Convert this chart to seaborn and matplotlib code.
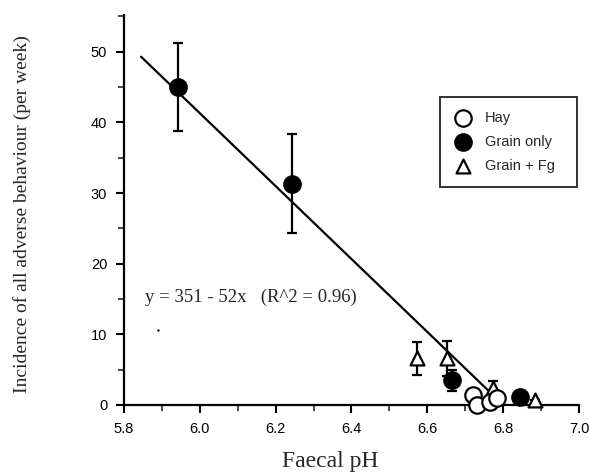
import numpy as np
import pandas as pd
import matplotlib
matplotlib.use("Agg")
import matplotlib.pyplot as plt
from matplotlib.ticker import MultipleLocator
import seaborn as sns

# ---- data ----
hay_x = [6.720, 6.731, 6.765, 6.784]
hay_y = [1.4, 0.0, 0.4, 1.0]

grain_x = [5.942, 6.243, 6.665, 6.844]
grain_y = [45.0, 31.3, 3.5, 1.1]
grain_err = [6.2, 7.0, 1.5, 0.0]

fg_x = [6.573, 6.652, 6.773, 6.884]
fg_y = [6.6, 6.6, 2.4, 0.7]
fg_err = [2.3, 2.5, 1.0, 0.0]

fit_intercept = 350.9
fit_slope = -51.6
fit_x_range = [5.845, 6.786]

stray_x = [5.890]
stray_y = [10.6]

x_ticks = [5.8, 6.0, 6.2, 6.4, 6.6, 6.8, 7.0]
y_ticks = [0, 10, 20, 30, 40, 50]

equation_text = "y = 351 - 52x   (R^2 = 0.96)"
group_labels = ["Hay", "Grain only", "Grain + Fg"]

sns.set_theme(style="ticks")
plt.rcParams["font.family"] = ["Liberation Sans", "DejaVu Sans"]
serif = ["Liberation Serif", "DejaVu Serif"]

fig = plt.figure(figsize=(5.89, 4.73), dpi=100)
ax = fig.add_axes([0.2105, 0.1438, 0.7725, 0.8245])

# regression line
fit_df = pd.DataFrame({"x": fit_x_range,
                       "y": [fit_intercept + fit_slope * v for v in fit_x_range]})
sns.lineplot(data=fit_df, x="x", y="y", color="black", linewidth=1.6, ax=ax,
             zorder=2, legend=False)

# error bars
ax.errorbar(grain_x, grain_y, yerr=grain_err, fmt="none", ecolor="black",
            elinewidth=1.6, capsize=3.5, capthick=1.6, zorder=3)
ax.errorbar(fg_x, fg_y, yerr=fg_err, fmt="none", ecolor="black",
            elinewidth=1.6, capsize=3.5, capthick=1.6, zorder=3)

# points
hay_df = pd.DataFrame({"x": hay_x, "y": hay_y})
grain_df = pd.DataFrame({"x": grain_x, "y": grain_y})
fg_df = pd.DataFrame({"x": fg_x, "y": fg_y})

sns.scatterplot(data=grain_df, x="x", y="y", marker="o", s=150, color="black",
                edgecolor="black", linewidth=1.2, ax=ax, zorder=4,
                label=group_labels[1], clip_on=False)
sns.scatterplot(data=fg_df, x="x", y="y", marker="^", s=100, color="white",
                edgecolor="black", linewidth=1.6, ax=ax, zorder=5,
                label=group_labels[2], clip_on=False)
sns.scatterplot(data=hay_df, x="x", y="y", marker="o", s=140, color="white",
                edgecolor="black", linewidth=1.6, ax=ax, zorder=6,
                label=group_labels[0], clip_on=False)
sns.scatterplot(x=stray_x, y=stray_y, marker="o", s=3, color="black",
                edgecolor="black", linewidth=0, ax=ax, zorder=4)

# equation
ax.text(5.855, 15.2, equation_text, fontsize=13.5, family=serif,
        va="center", ha="left")

# axes styling
ax.set_xlim(5.8, 7.0)
ax.set_ylim(0, 55.2)
ax.set_xticks(x_ticks)
ax.set_xticklabels([f"{v:.1f}" for v in x_ticks])
ax.set_yticks(y_ticks)
ax.set_yticklabels([str(v) for v in y_ticks])
ax.xaxis.set_minor_locator(MultipleLocator(0.1))
ax.yaxis.set_minor_locator(MultipleLocator(5))
ax.tick_params(axis="both", which="major", direction="out", length=6, width=1.5,
               labelsize=10.5, colors="black", pad=6)
ax.tick_params(axis="both", which="minor", direction="out", length=4, width=1.2)
sns.despine(ax=ax)
for side in ["left", "bottom"]:
    ax.spines[side].set_linewidth(1.6)
    ax.spines[side].set_color("black")
ax.set_facecolor("white")
fig.patch.set_facecolor("white")

ax.set_xlabel("Faecal pH", fontsize=17, family=serif)
ax.xaxis.set_label_coords(0.453, -0.118)
ax.set_ylabel("Incidence of all adverse behaviour (per week)", fontsize=14,
              family=serif)
ax.yaxis.set_label_coords(-0.205, 0.49)

# legend
handles, labels = ax.get_legend_handles_labels()
order = [labels.index(l) for l in group_labels]
leg = ax.legend([handles[i] for i in order], [labels[i] for i in order],
                loc="upper left", bbox_to_anchor=(0.695, 0.572, 0.301, 0.218),
                mode="expand", frameon=True, fancybox=False, edgecolor="black",
                fontsize=10.5, labelspacing=0.7, borderpad=0.95,
                handletextpad=0.9, handlelength=1.2, borderaxespad=0)
leg.get_frame().set_linewidth(1.4)

fig.savefig("out.png", dpi=100, facecolor="white")
